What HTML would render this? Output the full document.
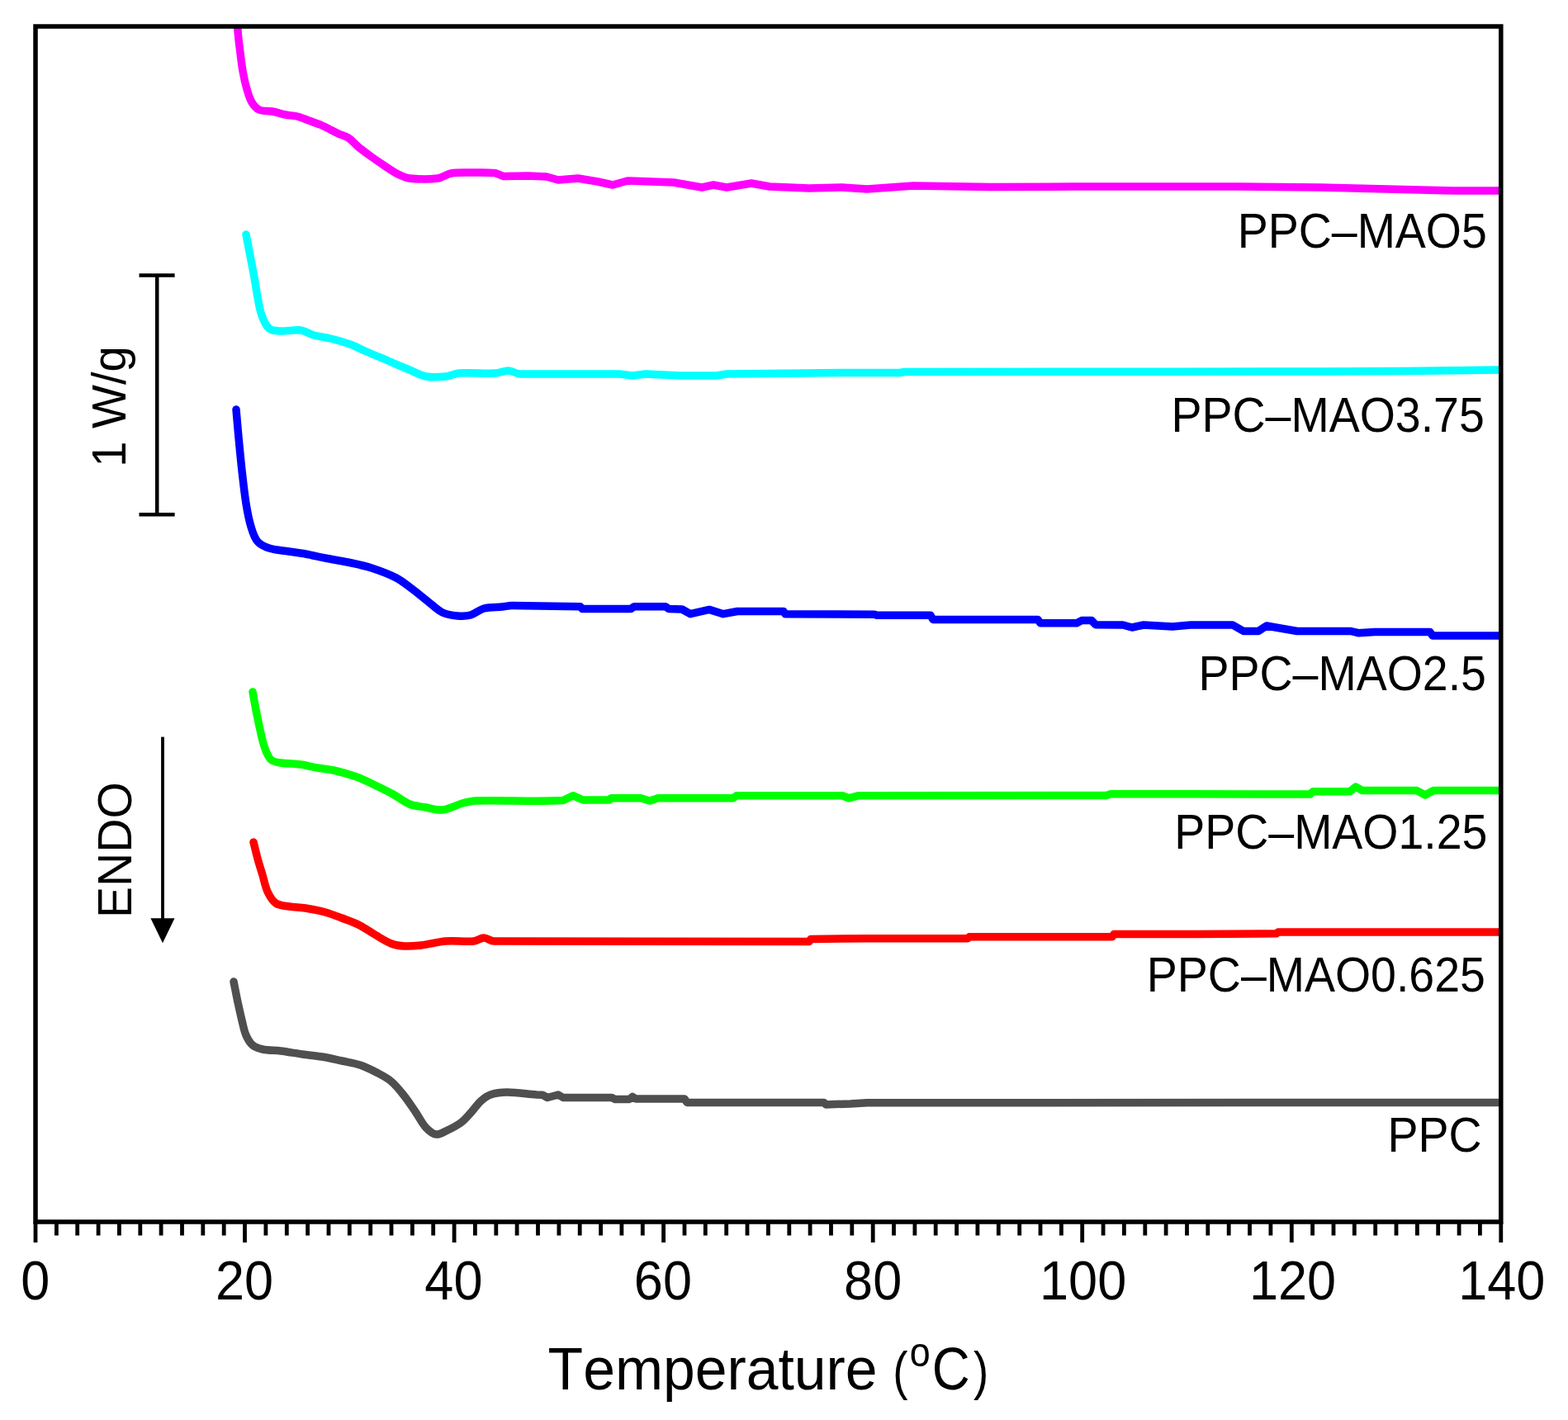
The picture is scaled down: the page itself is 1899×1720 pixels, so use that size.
<!DOCTYPE html>
<html><head><meta charset="utf-8"><title>DSC curves</title>
<style>html,body{margin:0;padding:0;background:#fff;overflow:hidden;}svg{display:block;}</style>
</head><body>
<svg width="1899" height="1720" viewBox="0 0 1899 1720">
<rect width="1899" height="1720" fill="#fff"/>
<defs><clipPath id="pa"><rect x="43" y="32" width="1774.8" height="1448"/></clipPath></defs>
<g clip-path="url(#pa)" fill="none" stroke-width="9.5" stroke-linejoin="round" stroke-linecap="round">
<path stroke="#ff00ff" d="M287.2 26.0C287.6 31.3 287.9 36.7 288.4 42.0C289.0 48.0 289.7 54.0 290.5 60.0C291.6 68.7 292.5 77.4 294.0 86.0C295.3 93.4 296.9 100.8 299.0 108.0C300.6 113.5 302.1 119.1 305.0 124.0C307.2 127.6 310.1 131.3 314.0 133.0C318.9 135.2 324.7 134.0 330.0 135.0C335.4 136.0 340.6 137.9 346.0 139.0C350.6 139.9 355.4 139.9 360.0 141.0C364.8 142.2 369.3 144.3 374.0 146.0C379.3 148.0 384.8 149.7 390.0 152.0C396.8 155.0 403.3 158.8 410.0 162.0C413.9 163.8 418.4 164.6 422.0 167.0C426.5 170.0 429.8 174.6 434.0 178.0C439.2 182.2 444.6 186.1 450.0 190.0C455.3 193.8 460.6 197.4 466.0 201.0C471.3 204.5 476.4 208.2 482.0 211.0C486.4 213.2 491.1 215.5 496.0 216.0C507.3 217.2 518.7 217.4 530.0 216.0C535.7 215.3 540.4 211.0 546.0 210.0C553.9 208.6 562.0 209.1 570.0 209.0C580.0 208.9 590.1 208.5 600.0 209.6L610.0 213.6L640.0 213.0L662.0 214.0L676.0 218.0L700.0 216.0L724.0 220.0L742.0 224.0L760.0 219.0L816.0 221.0L850.0 227.0L864.0 224.0L880.0 227.0L910.0 222.0L932.0 226.0L980.0 228.0L1020.0 227.0L1050.0 229.0L1106.0 225.0L1200.0 226.5L1300.0 226.0L1390.0 226.0L1500.0 226.0L1600.0 227.0L1700.0 229.5L1760.0 231.0L1817.0 231.0"/>
<path stroke="#00ffff" d="M298.0 284.0C299.7 292.7 301.3 301.3 303.0 310.0C304.7 318.7 306.4 327.3 308.0 336.0C309.4 344.0 310.4 352.0 312.0 360.0C313.4 367.4 314.4 374.9 317.0 382.0C319.1 387.7 321.3 394.1 326.0 398.0C329.7 401.0 335.2 400.7 340.0 401.0C348.0 401.4 356.1 399.0 364.0 400.0C369.7 400.7 374.5 404.5 380.0 406.0C386.6 407.8 393.4 408.4 400.0 410.0C408.1 412.0 416.2 414.2 424.0 417.0C430.9 419.5 437.3 423.1 444.0 426.0C452.6 429.8 461.3 433.3 470.0 437.0C478.7 440.7 487.3 444.4 496.0 448.0C502.6 450.7 508.9 454.7 516.0 456.0C523.9 457.4 532.0 456.8 540.0 456.0C545.5 455.5 550.5 452.4 556.0 452.0C570.6 451.0 585.4 452.7 600.0 452.0C605.4 451.7 610.6 448.8 616.0 449.0C620.9 449.2 625.1 452.9 630.0 453.0L750.0 453.0L766.0 455.0L782.0 453.0L824.0 455.0L868.0 455.0L880.0 453.0L1020.0 451.5L1090.0 451.5L1095.0 450.5L1420.0 450.2L1600.0 450.0L1700.0 449.5L1817.0 448.0"/>
<path stroke="#0000ff" d="M286.0 496.0C287.0 507.3 287.9 518.7 289.0 530.0C290.3 543.3 291.5 556.7 293.0 570.0C294.5 583.4 295.9 596.7 298.0 610.0C299.5 619.4 301.2 628.9 304.0 638.0C305.9 644.3 307.8 651.0 312.0 656.0C315.5 660.1 320.9 662.4 326.0 664.0C333.7 666.4 342.0 666.7 350.0 668.0C356.7 669.1 363.4 669.8 370.0 671.0C378.0 672.5 386.0 674.4 394.0 676.0C404.6 678.1 415.4 679.7 426.0 682.0C434.1 683.7 442.2 685.4 450.0 688.0C460.2 691.4 470.4 695.0 480.0 700.0C487.2 703.8 493.5 709.1 500.0 714.0C506.8 719.1 513.3 724.8 520.0 730.0C525.3 734.1 530.0 739.2 536.0 742.0C541.6 744.6 547.9 745.5 554.0 746.0C559.3 746.5 564.9 746.4 570.0 745.0C575.7 743.4 580.2 738.5 586.0 737.0C593.1 735.1 600.7 735.7 608.0 735.0C612.0 734.6 616.0 733.6 620.0 733.6L703.0 734.8L705.0 737.4L764.0 737.4L768.0 734.8L806.0 734.8L810.0 737.4L826.0 738.0L836.0 743.7L859.0 738.4L876.0 743.7L893.0 740.5L949.0 740.5L951.0 743.7L1059.0 744.2L1062.0 745.3L1127.0 745.3L1130.0 750.5L1257.0 750.5L1260.0 754.7L1304.0 754.7L1310.0 751.6L1322.0 751.6L1327.0 756.8L1360.0 757.0L1371.0 760.0L1385.0 757.0L1420.0 759.0L1442.0 757.0L1493.0 757.0L1506.0 764.5L1524.0 764.5L1534.0 758.0L1545.0 760.0L1571.0 764.5L1636.0 764.5L1645.0 766.7L1665.0 765.6L1732.0 765.6L1735.0 770.0L1817.0 770.0"/>
<path stroke="#00ff00" d="M306.0 838.0C307.3 845.3 308.6 852.7 310.0 860.0C311.6 868.0 313.2 876.0 315.0 884.0C316.5 890.7 317.7 897.5 320.0 904.0C322.0 909.6 323.8 915.8 328.0 920.0C331.0 923.0 335.8 923.3 340.0 924.0C347.9 925.3 356.0 924.9 364.0 926.0C370.7 926.9 377.3 928.8 384.0 930.0C390.6 931.2 397.4 931.5 404.0 933.0C413.5 935.2 422.9 937.8 432.0 941.0C438.9 943.4 445.4 946.9 452.0 950.0C460.1 953.9 468.1 957.7 476.0 962.0C482.8 965.7 488.8 971.1 496.0 974.0C502.3 976.5 509.3 976.8 516.0 978.0C522.6 979.2 529.3 981.8 536.0 981.0C544.4 980.0 551.9 975.2 560.0 973.0C565.2 971.6 570.6 970.2 576.0 970.0C611.3 969.0 646.7 971.5 682.0 969.6L694.0 963.7L706.0 969.0L738.0 969.0L740.0 966.8L776.0 966.8L787.0 970.0L797.0 966.8L888.0 966.8L892.0 963.7L1020.0 963.7L1028.0 966.8L1040.0 963.7L1340.0 963.5L1345.0 961.8L1440.0 961.8L1587.0 962.0L1590.0 958.7L1635.0 958.7L1642.0 953.0L1650.0 957.6L1716.0 957.6L1726.0 963.0L1736.0 957.6L1817.0 957.6"/>
<path stroke="#ff0000" d="M307.0 1020.0C308.7 1026.7 310.2 1033.4 312.0 1040.0C313.8 1046.7 316.0 1053.3 318.0 1060.0C320.0 1066.7 321.0 1073.7 324.0 1080.0C326.4 1085.2 329.3 1090.7 334.0 1094.0C338.5 1097.1 344.6 1097.1 350.0 1098.0C356.6 1099.1 363.4 1098.9 370.0 1100.0C378.1 1101.3 386.1 1102.8 394.0 1105.0C400.8 1106.9 407.4 1109.5 414.0 1112.0C420.7 1114.5 427.6 1116.8 434.0 1120.0C441.0 1123.5 447.3 1128.1 454.0 1132.0C460.6 1135.8 466.9 1140.2 474.0 1143.0C479.1 1145.0 484.6 1145.7 490.0 1146.0C496.7 1146.4 503.4 1145.8 510.0 1145.0C520.1 1143.8 529.9 1140.8 540.0 1140.0C551.3 1139.1 562.7 1141.0 574.0 1140.0C578.2 1139.6 581.8 1136.0 586.0 1136.0C590.2 1136.0 593.8 1140.0 598.0 1140.0L980.0 1140.5L982.0 1137.4L1050.0 1136.8L1172.0 1136.8L1174.0 1134.7L1347.0 1134.7L1349.0 1131.6L1450.0 1131.6L1546.0 1130.8L1548.0 1129.0L1817.0 1129.0"/>
<path stroke="#4f4f4f" d="M283.0 1189.0C284.7 1197.3 286.2 1205.7 288.0 1214.0C289.6 1221.4 291.2 1228.7 293.0 1236.0C294.5 1242.0 295.5 1248.3 298.0 1254.0C299.9 1258.4 302.3 1262.9 306.0 1266.0C309.3 1268.8 313.8 1270.1 318.0 1271.0C325.2 1272.5 332.7 1272.1 340.0 1273.0C348.7 1274.1 357.3 1275.8 366.0 1277.0C374.0 1278.1 382.0 1278.7 390.0 1280.0C398.1 1281.3 406.0 1283.3 414.0 1285.0C421.3 1286.6 428.9 1287.6 436.0 1290.0C442.9 1292.3 449.5 1295.6 456.0 1299.0C462.2 1302.3 468.7 1305.4 474.0 1310.0C480.1 1315.2 485.0 1321.7 490.0 1328.0C495.0 1334.4 499.4 1341.3 504.0 1348.0C508.1 1354.0 511.1 1360.7 516.0 1366.0C519.3 1369.5 523.3 1373.2 528.0 1374.0C532.2 1374.7 536.2 1371.8 540.0 1370.0C546.2 1367.1 552.5 1364.1 558.0 1360.0C562.6 1356.7 566.2 1352.2 570.0 1348.0C574.2 1343.5 577.5 1338.2 582.0 1334.0C585.5 1330.8 589.5 1327.6 594.0 1326.0C600.4 1323.8 607.3 1323.0 614.0 1323.0C626.0 1323.0 638.0 1325.1 650.0 1326.0L657.0 1326.3L663.0 1329.5L676.0 1326.0L682.0 1329.5L741.0 1329.5L745.0 1331.6L762.0 1331.6L766.0 1328.4L770.0 1331.0L829.0 1331.0L832.0 1335.4L998.0 1335.4L1000.0 1337.9L1030.0 1337.0L1050.0 1335.7L1817.0 1335.5"/>
</g>
<rect x="43" y="32" width="1774.8" height="1448" fill="none" stroke="#000" stroke-width="5.5"/>
<path d="M43.0 1480V1505 M68.4 1480V1496.5 M93.7 1480V1496.5 M119.1 1480V1496.5 M144.4 1480V1496.5 M169.8 1480V1496.5 M195.1 1480V1496.5 M220.5 1480V1496.5 M245.8 1480V1496.5 M271.2 1480V1496.5 M296.5 1480V1505 M321.9 1480V1496.5 M347.3 1480V1496.5 M372.6 1480V1496.5 M398.0 1480V1496.5 M423.3 1480V1496.5 M448.7 1480V1496.5 M474.0 1480V1496.5 M499.4 1480V1496.5 M524.7 1480V1496.5 M550.1 1480V1505 M575.4 1480V1496.5 M600.8 1480V1496.5 M626.1 1480V1496.5 M651.5 1480V1496.5 M676.9 1480V1496.5 M702.2 1480V1496.5 M727.6 1480V1496.5 M752.9 1480V1496.5 M778.3 1480V1496.5 M803.6 1480V1505 M829.0 1480V1496.5 M854.3 1480V1496.5 M879.7 1480V1496.5 M905.0 1480V1496.5 M930.4 1480V1496.5 M955.8 1480V1496.5 M981.1 1480V1496.5 M1006.5 1480V1496.5 M1031.8 1480V1496.5 M1057.2 1480V1505 M1082.5 1480V1496.5 M1107.9 1480V1496.5 M1133.2 1480V1496.5 M1158.6 1480V1496.5 M1183.9 1480V1496.5 M1209.3 1480V1496.5 M1234.7 1480V1496.5 M1260.0 1480V1496.5 M1285.4 1480V1496.5 M1310.7 1480V1505 M1336.1 1480V1496.5 M1361.4 1480V1496.5 M1386.8 1480V1496.5 M1412.1 1480V1496.5 M1437.5 1480V1496.5 M1462.8 1480V1496.5 M1488.2 1480V1496.5 M1513.5 1480V1496.5 M1538.9 1480V1496.5 M1564.3 1480V1505 M1589.6 1480V1496.5 M1615.0 1480V1496.5 M1640.3 1480V1496.5 M1665.7 1480V1496.5 M1691.0 1480V1496.5 M1716.4 1480V1496.5 M1741.7 1480V1496.5 M1767.1 1480V1496.5 M1792.4 1480V1496.5 M1817.8 1480V1505" stroke="#000" stroke-width="4.8" fill="none"/>
<g font-family="'Liberation Sans', Arial, sans-serif" style="font-kerning:none" fill="#000"><text font-size="66.00" transform="translate(25.16,1573.80) scale(0.9550,1)">0</text>
<text font-size="66.00" transform="translate(260.90,1573.80) scale(0.9550,1)">20</text>
<text font-size="66.00" transform="translate(514.33,1573.80) scale(0.9550,1)">40</text>
<text font-size="66.00" transform="translate(767.85,1573.80) scale(0.9550,1)">60</text>
<text font-size="66.00" transform="translate(1022.10,1573.80) scale(0.9550,1)">80</text>
<text font-size="66.00" transform="translate(1259.07,1573.80) scale(0.9550,1)">100</text>
<text font-size="66.00" transform="translate(1512.97,1573.80) scale(0.9550,1)">120</text>
<text font-size="66.00" transform="translate(1766.17,1573.80) scale(0.9550,1)">140</text>
<text font-size="73.00" transform="translate(663.56,1682.80) scale(0.9550,1)">Temperature</text>
<text font-size="64.50" transform="translate(1081.31,1683.00) scale(0.8500,1)">(</text>
<text font-size="49.60" transform="translate(1101.81,1654.50) scale(0.9040,1)">o</text>
<text font-size="73.00" transform="translate(1128.82,1682.80) scale(0.8700,1)">C</text>
<text font-size="64.50" transform="translate(1178.90,1683.00) scale(0.8500,1)">)</text>
<text font-size="58.60" transform="translate(1498.75,299.90) scale(0.9470,1)">PPC–MAO5</text>
<text font-size="58.60" transform="translate(1418.52,522.90) scale(0.9470,1)">PPC–MAO3.75</text>
<text font-size="58.60" transform="translate(1451.52,836.20) scale(0.9470,1)">PPC–MAO2.5</text>
<text font-size="58.60" transform="translate(1422.22,1028.40) scale(0.9470,1)">PPC–MAO1.25</text>
<text font-size="58.60" transform="translate(1388.82,1201.20) scale(0.9470,1)">PPC–MAO0.625</text>
<text font-size="58.60" transform="translate(1680.58,1395.40) scale(0.9470,1)">PPC</text>
<text font-size="57.00" transform="translate(151.60,565.81) rotate(-90) scale(0.9850,1)">1 W/g</text>
<text font-size="57.00" transform="translate(159.40,1111.96) rotate(-90) scale(1.0000,1)">ENDO</text></g>
<path d="M168.5 333.5H211.6M190.2 333.5V623.2M168.5 623.2H211.6" stroke="#000" stroke-width="4.5" fill="none"/>
<path d="M197 892.6V1115" stroke="#000" stroke-width="3.8" fill="none"/>
<path d="M182.4 1112.3H211.5L197 1142.2Z" fill="#000"/>
</svg>
</body></html>
